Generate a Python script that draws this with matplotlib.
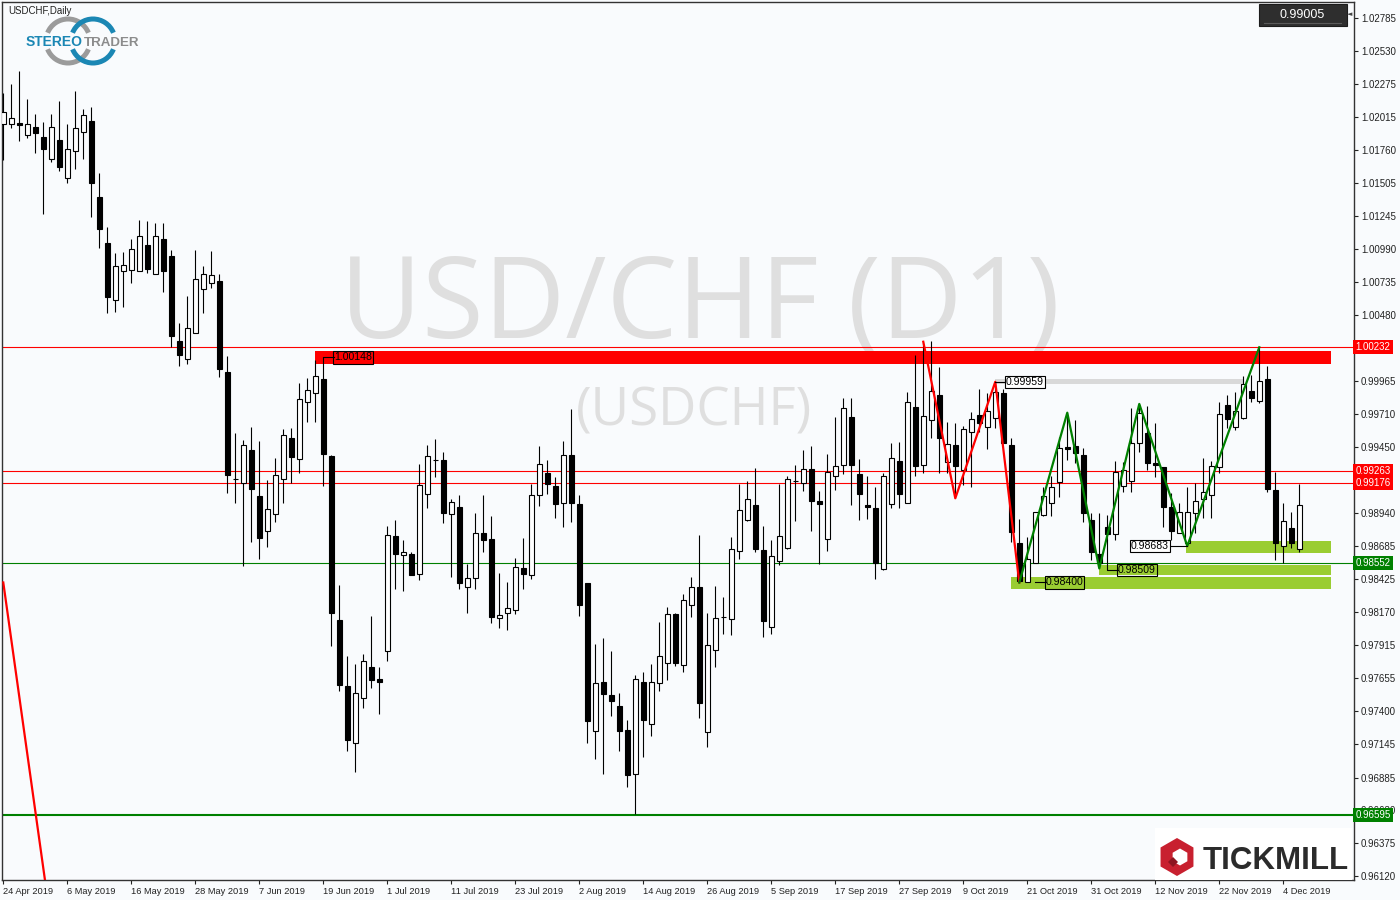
import numpy as np
import matplotlib.pyplot as plt
from matplotlib.patches import Rectangle, Arc, RegularPolygon
from matplotlib.transforms import blended_transform_factory

plt.rcParams['font.family'] = ['Liberation Sans', 'DejaVu Sans']

# USDCHF daily candles, 24 Apr 2019 .. 6 Dec 2019
opens = [
    1.01959, 1.01959, 1.01969, 1.01874, 1.01938, 1.01861, 1.01687, 1.01837, 1.01540, 1.01752,
    1.01897, 1.01985, 1.01395, 1.01037, 1.00594, 1.00817, 1.00825, 1.00817, 1.01019, 1.00794,
    1.01066, 1.00934, 1.00274, 1.00134, 1.00336, 1.00678, 1.00724, 1.00740, 1.00033, 0.99204,
    0.99170, 0.99429, 0.99072, 0.98800, 0.98930, 0.99202, 0.99522, 0.99357, 0.99800, 0.99870,
    0.99978, 0.99380, 0.98109, 0.97596, 0.97151, 0.97500, 0.97741, 0.97650, 0.97865, 0.98759,
    0.98611, 0.98619, 0.98468, 0.99085, 0.99349, 0.99349, 0.98930, 0.98984, 0.98367, 0.98437,
    0.98782, 0.98736, 0.98127, 0.98165, 0.98189, 0.98515, 0.98461, 0.99077, 0.99248, 0.99147,
    0.99015, 0.99388, 0.99007, 0.98394, 0.97249, 0.97627, 0.97524, 0.97438, 0.97252, 0.96915,
    0.97627, 0.97303, 0.97617, 0.97772, 0.98153, 0.97757, 0.98223, 0.98363, 0.97241, 0.97873,
    0.98134, 0.98114, 0.98647, 0.98888, 0.99002, 0.98652, 0.98052, 0.98565, 0.98666, 0.99186,
    0.99175, 0.99279, 0.99031, 0.98736, 0.99225, 0.99310, 0.99683, 0.99241, 0.99000, 0.98976,
    0.98502, 0.99007, 0.99341, 0.99015, 0.99761, 0.99309, 0.99660, 0.99856, 0.99334, 0.99468,
    0.99272, 0.99567, 0.99701, 0.99606, 0.99675, 0.99874, 0.99468, 0.98705, 0.98404, 0.98549,
    0.98924, 0.99015, 0.99183, 0.99450, 0.99460, 0.99390, 0.98886, 0.98621, 0.98833, 0.98774,
    0.99150, 0.99191, 0.99481, 0.99559, 0.99326, 0.99295, 0.98984, 0.98782, 0.98705, 0.98938,
    0.99046, 0.99077, 0.99295, 0.99776, 0.99606, 0.99680, 0.99888, 0.99812, 0.99978, 0.99116,
    0.98684, 0.98821, 0.98660]
highs = [
    1.02202, 1.02272, 1.02373, 1.02154, 1.02039, 1.01977, 1.02039, 1.02140, 1.01959, 1.02218,
    1.02078, 1.02094, 1.01579, 1.01162, 1.00960, 1.00967, 1.01068, 1.01216, 1.01208, 1.01193,
    1.01193, 1.00981, 1.00416, 1.00626, 1.00981, 1.00859, 1.00973, 1.00796, 1.00159, 0.99561,
    0.99507, 0.99608, 0.99499, 0.99196, 0.99369, 0.99592, 0.99600, 0.99952, 0.99986, 1.00128,
    1.00148, 0.99390, 0.98381, 0.97829, 0.97767, 0.97845, 0.98140, 0.97741, 0.98839, 0.98886,
    0.98728, 0.98637, 0.99318, 0.99466, 0.99515, 0.99411, 0.99046, 0.99077, 0.98546, 0.98938,
    0.99077, 0.98914, 0.98471, 0.98402, 0.98588, 0.98743, 0.99163, 0.99458, 0.99349, 0.99217,
    0.99497, 0.99745, 0.99077, 0.98394, 0.97922, 0.97967, 0.97865, 0.97542, 0.97334, 0.97681,
    0.97705, 0.97767, 0.98093, 0.98212, 0.98165, 0.98308, 0.98443, 0.98769, 0.98161, 0.98370,
    0.98287, 0.98753, 0.99167, 0.99188, 0.99292, 0.98839, 0.98730, 0.99167, 0.99227, 0.99310,
    0.99429, 0.99458, 0.99111, 0.99396, 0.99683, 0.99833, 0.99831, 0.99359, 0.99225, 0.99142,
    0.99248, 0.99484, 0.99494, 0.99882, 1.00167, 1.00270, 1.00276, 1.00072, 0.99649, 0.99637,
    0.99616, 0.99727, 0.99901, 0.99870, 0.99959, 0.99901, 0.99520, 0.98893, 0.98757, 0.98948,
    0.99144, 0.99227, 0.99533, 0.99719, 0.99662, 0.99442, 0.98942, 0.98942, 0.98924, 0.99346,
    0.99336, 0.99753, 0.99787, 0.99771, 0.99637, 0.99295, 0.99098, 0.99015, 0.99144, 0.99175,
    0.99365, 0.99346, 0.99804, 0.99856, 0.99882, 1.00004, 1.00012, 1.00227, 1.00082, 0.99261,
    0.99015, 0.98950, 0.99165]
lows = [
    1.01682, 1.01931, 1.01832, 1.01851, 1.01734, 1.01260, 1.01669, 1.01599, 1.01506, 1.01610,
    1.01687, 1.01237, 1.01001, 1.00496, 1.00504, 1.00542, 1.00729, 1.00838, 1.00802, 1.00794,
    1.00659, 1.00232, 1.00079, 1.00100, 1.00336, 1.00491, 1.00690, 0.99999, 0.99098, 0.99020,
    0.98530, 0.98717, 0.98585, 0.98678, 0.98872, 0.99020, 0.99175, 0.99248, 0.99649, 0.99649,
    0.99152, 0.97909, 0.97560, 0.97093, 0.96930, 0.97427, 0.97583, 0.97381, 0.97792, 0.98352,
    0.98336, 0.98458, 0.98422, 0.98981, 0.99222, 0.98865, 0.98445, 0.98352, 0.98165, 0.98352,
    0.98639, 0.98088, 0.98049, 0.98033, 0.98158, 0.98352, 0.98430, 0.98997, 0.99085, 0.98903,
    0.98833, 0.98872, 0.98142, 0.97156, 0.97031, 0.96915, 0.97365, 0.97093, 0.96814, 0.96598,
    0.97047, 0.97210, 0.97560, 0.97645, 0.97749, 0.97707, 0.98134, 0.97350, 0.97125, 0.97746,
    0.97998, 0.97995, 0.98585, 0.98880, 0.98635, 0.97974, 0.97998, 0.98534, 0.98663, 0.98880,
    0.99113, 0.98798, 0.98541, 0.98642, 0.99121, 0.99245, 0.99000, 0.98888, 0.98896, 0.98430,
    0.98495, 0.98976, 0.98976, 0.99014, 0.99225, 0.99248, 0.99520, 0.99253, 0.99253, 0.99054,
    0.99157, 0.99140, 0.99571, 0.99435, 0.99602, 0.99486, 0.98717, 0.98400, 0.98402, 0.98549,
    0.98919, 0.98916, 0.99066, 0.99352, 0.99326, 0.98872, 0.98575, 0.98509, 0.98730, 0.98730,
    0.99103, 0.99105, 0.99416, 0.99274, 0.99222, 0.98833, 0.98730, 0.98782, 0.98683, 0.98782,
    0.98899, 0.98899, 0.99253, 0.99598, 0.99585, 0.99668, 0.99804, 0.99797, 0.99103, 0.98575,
    0.98549, 0.98666, 0.98639]
closes = [
    1.02057, 1.02006, 1.01952, 1.01959, 1.01894, 1.01770, 1.01936, 1.01630, 1.01765, 1.01928,
    1.02029, 1.01501, 1.01148, 1.00620, 1.00856, 1.00864, 1.00988, 1.01089, 1.00838, 1.01089,
    1.00817, 1.00317, 1.00165, 1.00375, 1.00755, 1.00794, 1.00786, 1.00061, 0.99237, 0.99204,
    0.99466, 0.99129, 0.98748, 0.98969, 0.99233, 0.99543, 0.99377, 0.99823, 0.99893, 1.00002,
    0.99401, 0.98165, 0.97606, 0.97179, 0.97539, 0.97788, 0.97645, 0.97625, 0.98767, 0.98619,
    0.98635, 0.98461, 0.99155, 0.99380, 0.99349, 0.98942, 0.99023, 0.98398, 0.98437, 0.98782,
    0.98732, 0.98134, 0.98150, 0.98200, 0.98523, 0.98468, 0.99077, 0.99318, 0.99163, 0.99012,
    0.99388, 0.99020, 0.98228, 0.97326, 0.97617, 0.97536, 0.97482, 0.97249, 0.96907, 0.97653,
    0.97334, 0.97625, 0.97829, 0.98153, 0.97772, 0.98262, 0.98363, 0.97466, 0.97912, 0.98122,
    0.98134, 0.98658, 0.98961, 0.99046, 0.98660, 0.98103, 0.98603, 0.98759, 0.99202, 0.99186,
    0.99279, 0.99031, 0.99007, 0.99256, 0.99303, 0.99753, 0.99310, 0.99090, 0.98984, 0.98554,
    0.99225, 0.99365, 0.99090, 0.99801, 0.99307, 0.99691, 0.99885, 0.99520, 0.99473, 0.99305,
    0.99592, 0.99668, 0.99641, 0.99732, 0.99880, 0.99486, 0.98795, 0.98412, 0.98580, 0.98945,
    0.99072, 0.99144, 0.99442, 0.99439, 0.99404, 0.98942, 0.98639, 0.98554, 0.98774, 0.99261,
    0.99274, 0.99481, 0.99714, 0.99326, 0.99310, 0.98989, 0.98802, 0.98950, 0.98950, 0.99035,
    0.99101, 0.99305, 0.99709, 0.99668, 0.99730, 0.99942, 0.99836, 0.99968, 0.99129, 0.98705,
    0.98880, 0.98705, 0.99005]

date_labels = ['24 Apr 2019', '6 May 2019', '16 May 2019', '28 May 2019', '7 Jun 2019',
               '19 Jun 2019', '1 Jul 2019', '11 Jul 2019', '23 Jul 2019', '2 Aug 2019',
               '14 Aug 2019', '26 Aug 2019', '5 Sep 2019', '17 Sep 2019', '27 Sep 2019',
               '9 Oct 2019', '21 Oct 2019', '31 Oct 2019', '12 Nov 2019', '22 Nov 2019',
               '4 Dec 2019']
date_step = 8  # one label every 8 bars

price_ticks = [1.02785, 1.02530, 1.02275, 1.02015, 1.01760, 1.01505, 1.01245, 1.00990,
               1.00735, 1.00480, 0.99965, 0.99710, 0.99450, 0.98940, 0.98685, 0.98425,
               0.98170, 0.97915, 0.97655, 0.97400, 0.97145, 0.96885, 0.96630, 0.96375,
               0.96120]

# horizontal levels and their tags
red_levels = [1.00232, 0.99263, 0.99176]
green_levels = [0.98552, 0.96595]
last_price = 0.99005

# zones: (first bar, last bar, low, high)
red_zone = (38.96, 165.96, 1.00097, 1.00198)
gray_zone = (124.0, 154.96, 0.99942, 0.99981)
green_zones = [(147.9, 165.96, 0.98631, 0.98725),
               (136.96, 165.96, 0.98458, 0.98536),
               (125.96, 165.96, 0.98347, 0.98440)]

# zigzag pivots (bar, 'H' or 'L')
red_pivots = [(115, 'H'), (119, 'L'), (124, 'H'), (127, 'L')]
green_pivots = [(127, 'L'), (133, 'H'), (137, 'L'), (142, 'H'), (148, 'L'), (157, 'H')]
old_trend = ([0, 6], [0.98400, 0.95738])

o = np.array(opens)
h = np.array(highs)
l = np.array(lows)
c = np.array(closes)
x = np.arange(len(o))

BG = '#f9fbfd'
fig = plt.figure(figsize=(14, 9), dpi=100)
fig.patch.set_facecolor(BG)
ax = fig.add_axes([2 / 1400, 20 / 900, 1352 / 1400, 878 / 900])
ax.set_facecolor(BG)
ax.set_xlim(-0.16, 168.84)
ax.set_ylim(0.960888, 1.029093)

# watermark
ax.text(0.5163, 0.6173, 'USD/CHF (D1)', transform=ax.transAxes, ha='center', va='baseline',
        fontsize=81, color='#dfdfdf', family='Open Sans', zorder=0.5)
ax.text(0.5115, 0.5182, '(USDCHF)', transform=ax.transAxes, ha='center', va='baseline',
        fontsize=38, color='#dfdfdf', family='Open Sans', zorder=0.5)

# zones
ax.add_patch(Rectangle((red_zone[0], red_zone[2]), red_zone[1] - red_zone[0],
                       red_zone[3] - red_zone[2], fc='#ff0000', ec='none', zorder=1))
ax.add_patch(Rectangle((gray_zone[0], gray_zone[2]), gray_zone[1] - gray_zone[0],
                       gray_zone[3] - gray_zone[2], fc='#d9d9d9', ec='none', zorder=1))
for x0, x1, y0, y1 in green_zones:
    ax.add_patch(Rectangle((x0, y0), x1 - x0, y1 - y0, fc='#9acd32', ec='none', zorder=1))

for lv in red_levels:
    ax.axhline(lv, color='#ff0000', lw=0.8, zorder=2)
ax.axhline(green_levels[0], color='#008000', lw=0.8, zorder=2)
ax.axhline(green_levels[1], color='#008000', lw=1.5, zorder=2)

# candles
up = c >= o
body_lo = np.minimum(o, c)
body_h = np.maximum(np.abs(c - o), 0.000008)
ax.vlines(x, l, h, color='black', lw=0.8, zorder=3)
ax.bar(x[up], body_h[up], bottom=body_lo[up], width=0.6, facecolor='white',
       edgecolor='black', lw=0.8, zorder=4)
ax.bar(x[~up], body_h[~up], bottom=body_lo[~up], width=0.6, facecolor='black',
       edgecolor='black', lw=0.8, zorder=4)

# zigzags
def pivot_xy(piv):
    px = [p[0] for p in piv]
    py = [h[i] if t == 'H' else l[i] for i, t in piv]
    return px, py

rx, ry = pivot_xy(red_pivots)
ax.plot(rx, ry, color='#ff0000', lw=1.6, zorder=5)
gx, gy = pivot_xy(green_pivots)
ax.plot(gx, gy, color='#008000', lw=1.6, zorder=5)
ax.plot(old_trend[0], old_trend[1], color='#ff0000', lw=1.6, zorder=5)

# price labels on the chart
lab_kw = dict(fontsize=7.6, va='center', zorder=7)
ax.plot([40, 41.35], [h[40], h[40]], color='black', lw=0.8, zorder=6)
ax.text(41.35, h[40], f'{h[40]:.5f}', ha='left',
        bbox=dict(boxstyle='square,pad=0.1', fc='none', ec='black', lw=0.8), **lab_kw)
ax.plot([124, 125.35], [h[124], h[124]], color='black', lw=0.8, zorder=6)
ax.text(125.35, h[124], f'{h[124]:.5f}', ha='left',
        bbox=dict(boxstyle='square,pad=0.1', fc='white', ec='black', lw=0.8), **lab_kw)
ax.plot([145.7, 148], [l[148], l[148]], color='black', lw=0.8, zorder=6)
ax.text(145.7, l[148], f'{l[148]:.5f}', ha='right',
        bbox=dict(boxstyle='square,pad=0.1', fc='white', ec='black', lw=0.8), **lab_kw)
ax.plot([138, 138, 139.35], [l[138], 0.98497, 0.98497], color='black', lw=0.8, zorder=6)
ax.text(139.35, 0.98497, f'{l[137]:.5f}', ha='left',
        bbox=dict(boxstyle='square,pad=0.1', fc='none', ec='black', lw=0.8), **lab_kw)
ax.plot([129, 130.3], [l[127], l[127]], color='black', lw=0.8, zorder=6)
ax.text(130.3, l[127], f'{l[127]:.5f}', ha='left',
        bbox=dict(boxstyle='square,pad=0.1', fc='none', ec='black', lw=0.8), **lab_kw)

# axes styling
for s in ax.spines.values():
    s.set_color('#333333')
    s.set_linewidth(1.0)
ax.yaxis.tick_right()
ax.set_yticks(price_ticks)
ax.set_yticklabels([f'{v:.5f}' for v in price_ticks])
ax.tick_params(axis='y', length=3, pad=2, labelsize=7, colors='#222222')
ax.set_xticks(np.arange(len(date_labels)) * date_step)
ax.set_xticklabels(date_labels)
ax.tick_params(axis='x', length=3, pad=2, labelsize=6.7, colors='#222222')
for t in ax.get_xticklabels():
    t.set_ha('left')

tr = blended_transform_factory(ax.transAxes, ax.transData)
for lv in red_levels:
    ax.text(1.0012, lv, f'{lv:.5f}', transform=tr, ha='left', va='center', fontsize=7,
            color='white', bbox=dict(boxstyle='square,pad=0.22', fc='#ff0000', ec='none'),
            clip_on=False, zorder=10)
for lv in green_levels:
    ax.text(1.0012, lv, f'{lv:.5f}', transform=tr, ha='left', va='center', fontsize=7,
            color='white', bbox=dict(boxstyle='square,pad=0.22', fc='#008000', ec='none'),
            clip_on=False, zorder=10)

# overlay in pixel coordinates for logos and boxes
ov = fig.add_axes([0, 0, 1, 1], zorder=10)
ov.set_xlim(0, 1400)
ov.set_ylim(900, 0)
ov.axis('off')
ov.patch.set_alpha(0)

ov.text(8, 11, 'USDCHF,Daily', fontsize=7, color='#222222', ha='left', va='center')

# current price box
ov.add_patch(Rectangle((1259, 4), 88, 22, fc='#2e2e2e', ec='#1c1c1c', lw=0.8))
ov.plot([1264, 1341], [22.5, 22.5], color='#5a5a5a', lw=0.8)
ov.text(1302, 14.5, f'{last_price:.5f}', fontsize=9, color='white', ha='center', va='center')
ov.text(1350, 14.5, '\u25c4', fontsize=5, color='#444444', ha='center', va='center',
        family='DejaVu Sans')

# StereoTrader logo
for cx, col in [(68, '#9b9b9b'), (93, '#1b87b4')]:
    ov.add_patch(Arc((cx, 41), 44, 44, theta1=22, theta2=158, lw=3.6, color=col))
    ov.add_patch(Arc((cx, 41), 44, 44, theta1=202, theta2=338, lw=3.6, color=col))
ov.text(83, 46.5, 'STEREO', fontsize=10, weight='bold', color='#1b87b4', ha='right',
        va='baseline', family='Liberation Sans')
ov.text(83.5, 46.5, 'TRADER', fontsize=9.6, weight='bold', color='#8c8c8c', ha='left',
        va='baseline', family='Liberation Sans')

# Tickmill logo
ov.add_patch(Rectangle((1155, 828), 197, 52, fc='white', ec='none'))
ov.add_patch(RegularPolygon((1177, 857), 6, radius=19, orientation=0, fc='#c8202f', ec='none'))
ov.add_patch(RegularPolygon((1180, 857), 6, radius=8.5, orientation=0, fc='white', ec='none'))
ov.add_patch(RegularPolygon((1173, 862), 4, radius=5, orientation=0, fc='#8e1520', ec='none'))
ov.text(1203, 869, 'TICKMILL', fontsize=22.5, weight='bold', color='#2b2b2b', ha='left',
        va='baseline', family='Liberation Sans')

fig.savefig('out.png', dpi=100, facecolor=BG)
